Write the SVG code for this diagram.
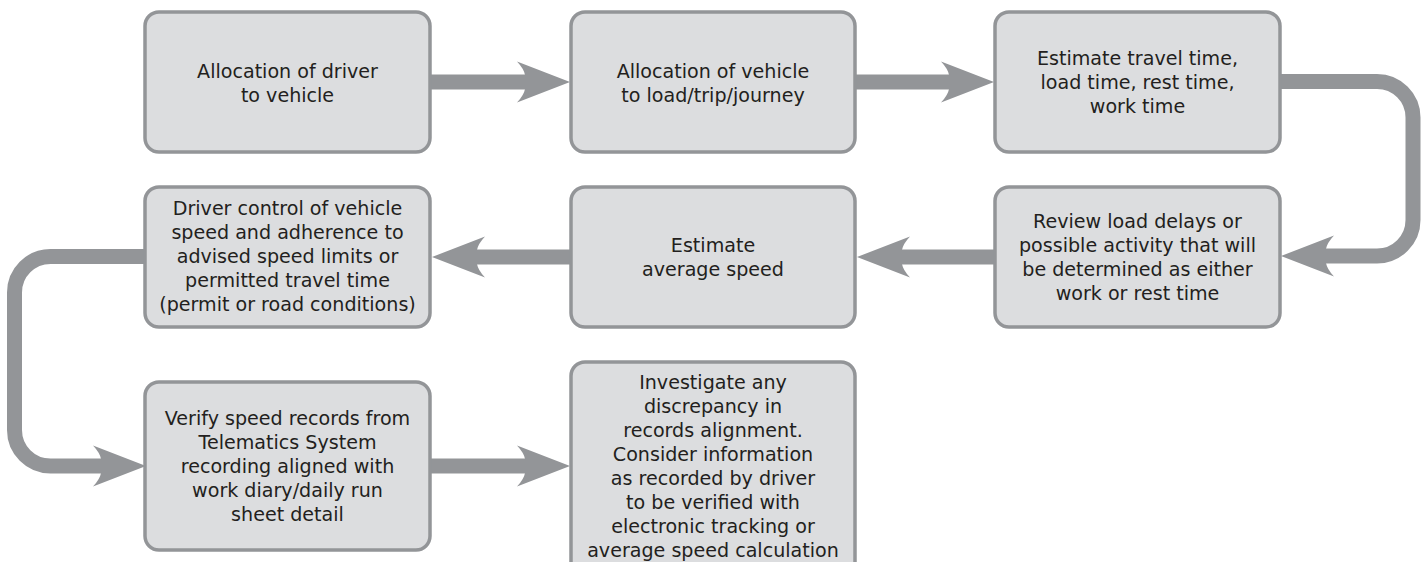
<svg xmlns="http://www.w3.org/2000/svg" xmlns:xlink="http://www.w3.org/1999/xlink" width="1426" height="562" viewBox="0 0 1426 562">
<style>
.box{fill:#dcdddf;stroke:#939598;stroke-width:3.5}
.t{font-family:"DejaVu Sans","Open Sans","Liberation Sans",sans-serif;font-size:19.1px;fill:#231f20;text-anchor:middle}
.ln{fill:none;stroke:#939598;stroke-width:15}
.hd{fill:#939598}
</style>
<defs>
<path id="ah" d="M0,0 L-53,-20.5 Q-46,-13 -45,-7 L-45,7 Q-46,13 -53,20.5 Z"/>
</defs>
<rect width="1426" height="562" fill="#ffffff"/>
<g id="connectors">
<line class="ln" x1="430" y1="82" x2="530" y2="82"/>
<use class="hd" href="#ah" xlink:href="#ah" transform="translate(570,82)"/>
<line class="ln" x1="855" y1="82" x2="955" y2="82"/>
<use class="hd" href="#ah" xlink:href="#ah" transform="translate(994,82)"/>
<path class="ln" d="M1280,81.5 H1377 A36,36 0 0 1 1413,117.5 V220 A36,36 0 0 1 1377,256 H1320"/>
<use class="hd" href="#ah" xlink:href="#ah" transform="translate(1281,256) rotate(180)"/>
<line class="ln" x1="995" y1="257" x2="895" y2="257"/>
<use class="hd" href="#ah" xlink:href="#ah" transform="translate(857,257) rotate(180)"/>
<line class="ln" x1="571" y1="257" x2="470" y2="257"/>
<use class="hd" href="#ah" xlink:href="#ah" transform="translate(432,257) rotate(180)"/>
<path class="ln" d="M145,256.5 H50.5 A36,36 0 0 0 14.5,292.5 V430 A36,36 0 0 0 50.5,466 H105"/>
<use class="hd" href="#ah" xlink:href="#ah" transform="translate(146,466)"/>
<line class="ln" x1="430" y1="466" x2="530" y2="466"/>
<use class="hd" href="#ah" xlink:href="#ah" transform="translate(570,466)"/>
</g>
<g id="n1">
<rect class="box" x="145" y="12" width="285" height="140" rx="14"/>
<text class="t" y="78"><tspan x="287.5">Allocation of driver</tspan><tspan x="287.5" dy="24">to vehicle</tspan></text>
</g>
<g id="n2">
<rect class="box" x="571" y="12" width="284" height="140" rx="14"/>
<text class="t" y="78"><tspan x="713">Allocation of vehicle</tspan><tspan x="713" dy="24">to load/trip/journey</tspan></text>
</g>
<g id="n3">
<rect class="box" x="995" y="12" width="285" height="140" rx="14"/>
<text class="t" y="65"><tspan x="1137.5">Estimate travel time,</tspan><tspan x="1137.5" dy="24">load time, rest time,</tspan><tspan x="1137.5" dy="24">work time</tspan></text>
</g>
<g id="n4">
<rect class="box" x="995" y="187" width="285" height="140" rx="14"/>
<text class="t" y="228"><tspan x="1137.5">Review load delays or</tspan><tspan x="1137.5" dy="24">possible activity that will</tspan><tspan x="1137.5" dy="24">be determined as either</tspan><tspan x="1137.5" dy="24">work or rest time</tspan></text>
</g>
<g id="n5">
<rect class="box" x="571" y="187" width="284" height="140" rx="14"/>
<text class="t" y="252"><tspan x="713">Estimate</tspan><tspan x="713" dy="24">average speed</tspan></text>
</g>
<g id="n6">
<rect class="box" x="145" y="187" width="285" height="140" rx="14"/>
<text class="t" y="215"><tspan x="287.5">Driver control of vehicle</tspan><tspan x="287.5" dy="24">speed and adherence to</tspan><tspan x="287.5" dy="24">advised speed limits or</tspan><tspan x="287.5" dy="24">permitted travel time</tspan><tspan x="287.5" dy="24">(permit or road conditions)</tspan></text>
</g>
<g id="n7">
<rect class="box" x="145" y="382" width="285" height="168" rx="14"/>
<text class="t" y="425"><tspan x="287.5">Verify speed records from</tspan><tspan x="287.5" dy="24">Telematics System</tspan><tspan x="287.5" dy="24">recording aligned with</tspan><tspan x="287.5" dy="24">work diary/daily run</tspan><tspan x="287.5" dy="24">sheet detail</tspan></text>
</g>
<g id="n8">
<rect class="box" x="571" y="362" width="284" height="240" rx="14"/>
<text class="t" y="389"><tspan x="713">Investigate any</tspan><tspan x="713" dy="24">discrepancy in</tspan><tspan x="713" dy="24">records alignment.</tspan><tspan x="713" dy="24">Consider information</tspan><tspan x="713" dy="24">as recorded by driver</tspan><tspan x="713" dy="24">to be verified with</tspan><tspan x="713" dy="24">electronic tracking or</tspan><tspan x="713" dy="24">average speed calculation</tspan></text>
</g>
</svg>
